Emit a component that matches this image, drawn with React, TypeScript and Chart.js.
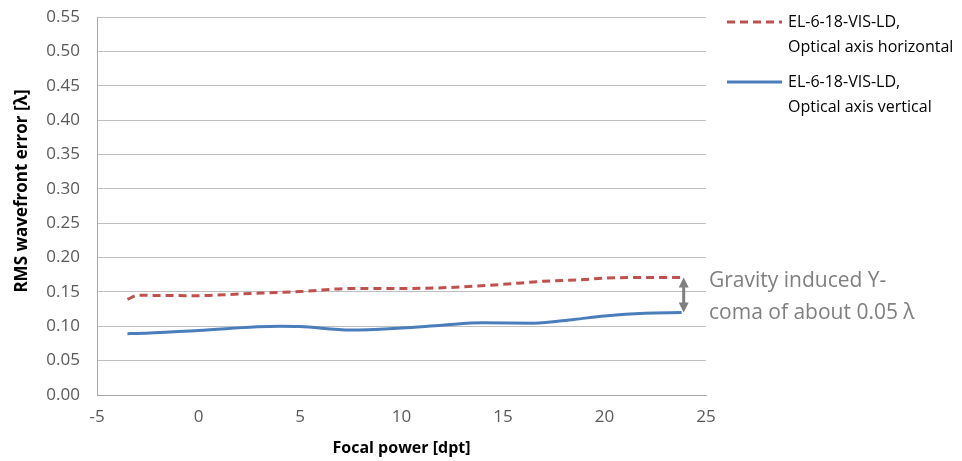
import React, { useEffect, useRef } from "react";
import { Chart, registerables } from "chart.js";

Chart.register(...registerables);

const seriesNames = [
  ["EL-6-18-VIS-LD,", "Optical axis horizontal"],
  ["EL-6-18-VIS-LD,", "Optical axis vertical"],
];
const horizX = [-3.5, -3, 0, 2, 5, 7.5, 10, 12, 15, 17, 19, 20, 22, 23.8];
const horizY = [0.139, 0.145, 0.1445, 0.147, 0.1505, 0.155, 0.155, 0.156, 0.161, 0.1655, 0.168, 0.17, 0.171, 0.171];
const vertX = [-3.5, -3, 0, 4, 5, 7.5, 10, 12, 14, 16.5, 18.5, 20, 22, 23.8];
const vertY = [0.0893, 0.0895, 0.094, 0.1, 0.0995, 0.0945, 0.0975, 0.1015, 0.105, 0.1045, 0.11, 0.115, 0.119, 0.12];
const xTitle = "Focal power [dpt]";
const yTitle = "RMS wavefront error [λ]";
const annotationLines = ["Gravity induced Y-", "coma of about 0.05 λ"];
const arrowX = 23.9;
const arrowFrom = 0.171;
const arrowTo = 0.12;

const FONT = "'Open Sans', sans-serif";
const RED = "#c0504d";
const BLUE = "#4a7ebb";

const extrasPlugin = {
  id: "extras",
  afterDraw(chart: any) {
    const ctx = chart.ctx;
    const xs = chart.scales.x;
    const ys = chart.scales.y;
    ctx.save();
    // arrow
    const ax = xs.getPixelForValue(arrowX);
    const y1 = ys.getPixelForValue(arrowFrom);
    const y2 = ys.getPixelForValue(arrowTo);
    ctx.strokeStyle = "#7f7f7f";
    ctx.fillStyle = "#7f7f7f";
    ctx.lineWidth = 3;
    ctx.beginPath();
    ctx.moveTo(ax, y1 + 8);
    ctx.lineTo(ax, y2 - 8);
    ctx.stroke();
    ctx.beginPath();
    ctx.moveTo(ax, y1);
    ctx.lineTo(ax - 5, y1 + 10);
    ctx.lineTo(ax + 5, y1 + 10);
    ctx.closePath();
    ctx.fill();
    ctx.beginPath();
    ctx.moveTo(ax, y2);
    ctx.lineTo(ax - 5, y2 - 10);
    ctx.lineTo(ax + 5, y2 - 10);
    ctx.closePath();
    ctx.fill();
    // annotation text
    ctx.font = `21px ${FONT}`;
    ctx.fillStyle = "#7f7f7f";
    ctx.textAlign = "left";
    ctx.textBaseline = "middle";
    ctx.fillText(annotationLines[0], 709, 281);
    ctx.fillText(annotationLines[1], 709, 313);
    // legend
    const items = [
      { color: RED, dash: [8, 5], y: 22, lines: seriesNames[0] },
      { color: BLUE, dash: [], y: 82, lines: seriesNames[1] },
    ];
    ctx.font = `16px ${FONT}`;
    ctx.fillStyle = "#000000";
    for (const it of items) {
      ctx.strokeStyle = it.color;
      ctx.lineWidth = 3;
      ctx.setLineDash(it.dash);
      ctx.beginPath();
      ctx.moveTo(727, it.y);
      ctx.lineTo(782, it.y);
      ctx.stroke();
      ctx.setLineDash([]);
      ctx.fillText(it.lines[0], 788, it.y);
      ctx.fillText(it.lines[1], 788, it.y + 25);
    }
    // y title
    ctx.translate(22, 191);
    ctx.rotate(-Math.PI / 2);
    ctx.font = `bold 17px ${FONT}`;
    ctx.textAlign = "center";
    ctx.fillText(yTitle, 0, 0);
    ctx.restore();
  },
};

export default function App() {
  const ref = useRef<HTMLCanvasElement>(null);
  useEffect(() => {
    document.body.style.margin = "0";
    const chart = new Chart(ref.current!, {
      type: "line",
      data: {
        datasets: [
          {
            label: seriesNames[0].join(" "),
            data: horizX.map((x, i) => ({ x, y: horizY[i] })),
            borderColor: RED,
            borderWidth: 3,
            borderDash: [8, 5],
            pointRadius: 0,
            cubicInterpolationMode: "monotone",
            fill: false,
          },
          {
            label: seriesNames[1].join(" "),
            data: vertX.map((x, i) => ({ x, y: vertY[i] })),
            borderColor: BLUE,
            borderWidth: 3,
            pointRadius: 0,
            cubicInterpolationMode: "monotone",
            fill: false,
          },
        ],
      },
      options: {
        animation: false,
        responsive: false,
        maintainAspectRatio: false,
        layout: { padding: { top: 17, right: 256, left: 0, bottom: 0 } },
        plugins: { legend: { display: false }, tooltip: { enabled: false } },
        scales: {
          x: {
            type: "linear",
            min: -5,
            max: 25,
            ticks: { stepSize: 5, color: "#595959", font: { family: FONT, size: 17 }, padding: 12 },
            grid: { display: false, drawTicks: false },
            border: { display: true, color: "#a6a6a6", width: 1 },
            title: { display: true, text: xTitle, color: "#000", font: { family: FONT, size: 16, weight: "bold" }, padding: { top: 0, bottom: 3 } },
            afterFit: (s: any) => { s.height = 66; s.paddingLeft = 0; s.paddingRight = 0; },
          },
          y: {
            min: 0,
            max: 0.55,
            ticks: {
              stepSize: 0.05,
              color: "#595959",
              font: { family: FONT, size: 17 },
              padding: 17,
              callback: (v: any) => Number(v).toFixed(2),
            },
            grid: { color: "#bfbfbf", lineWidth: 1, drawTicks: false },
            border: { display: true, color: "#a6a6a6", width: 1 },
            afterFit: (s: any) => { s.width = 97; s.paddingTop = 0; s.paddingBottom = 0; },
          },
        },
      },
      plugins: [extrasPlugin],
    } as any);
    return () => chart.destroy();
  }, []);
  return (
    <div style={{ width: 962, height: 461 }}>
      <canvas ref={ref} width={962} height={461} style={{ display: "block" }} />
    </div>
  );
}
